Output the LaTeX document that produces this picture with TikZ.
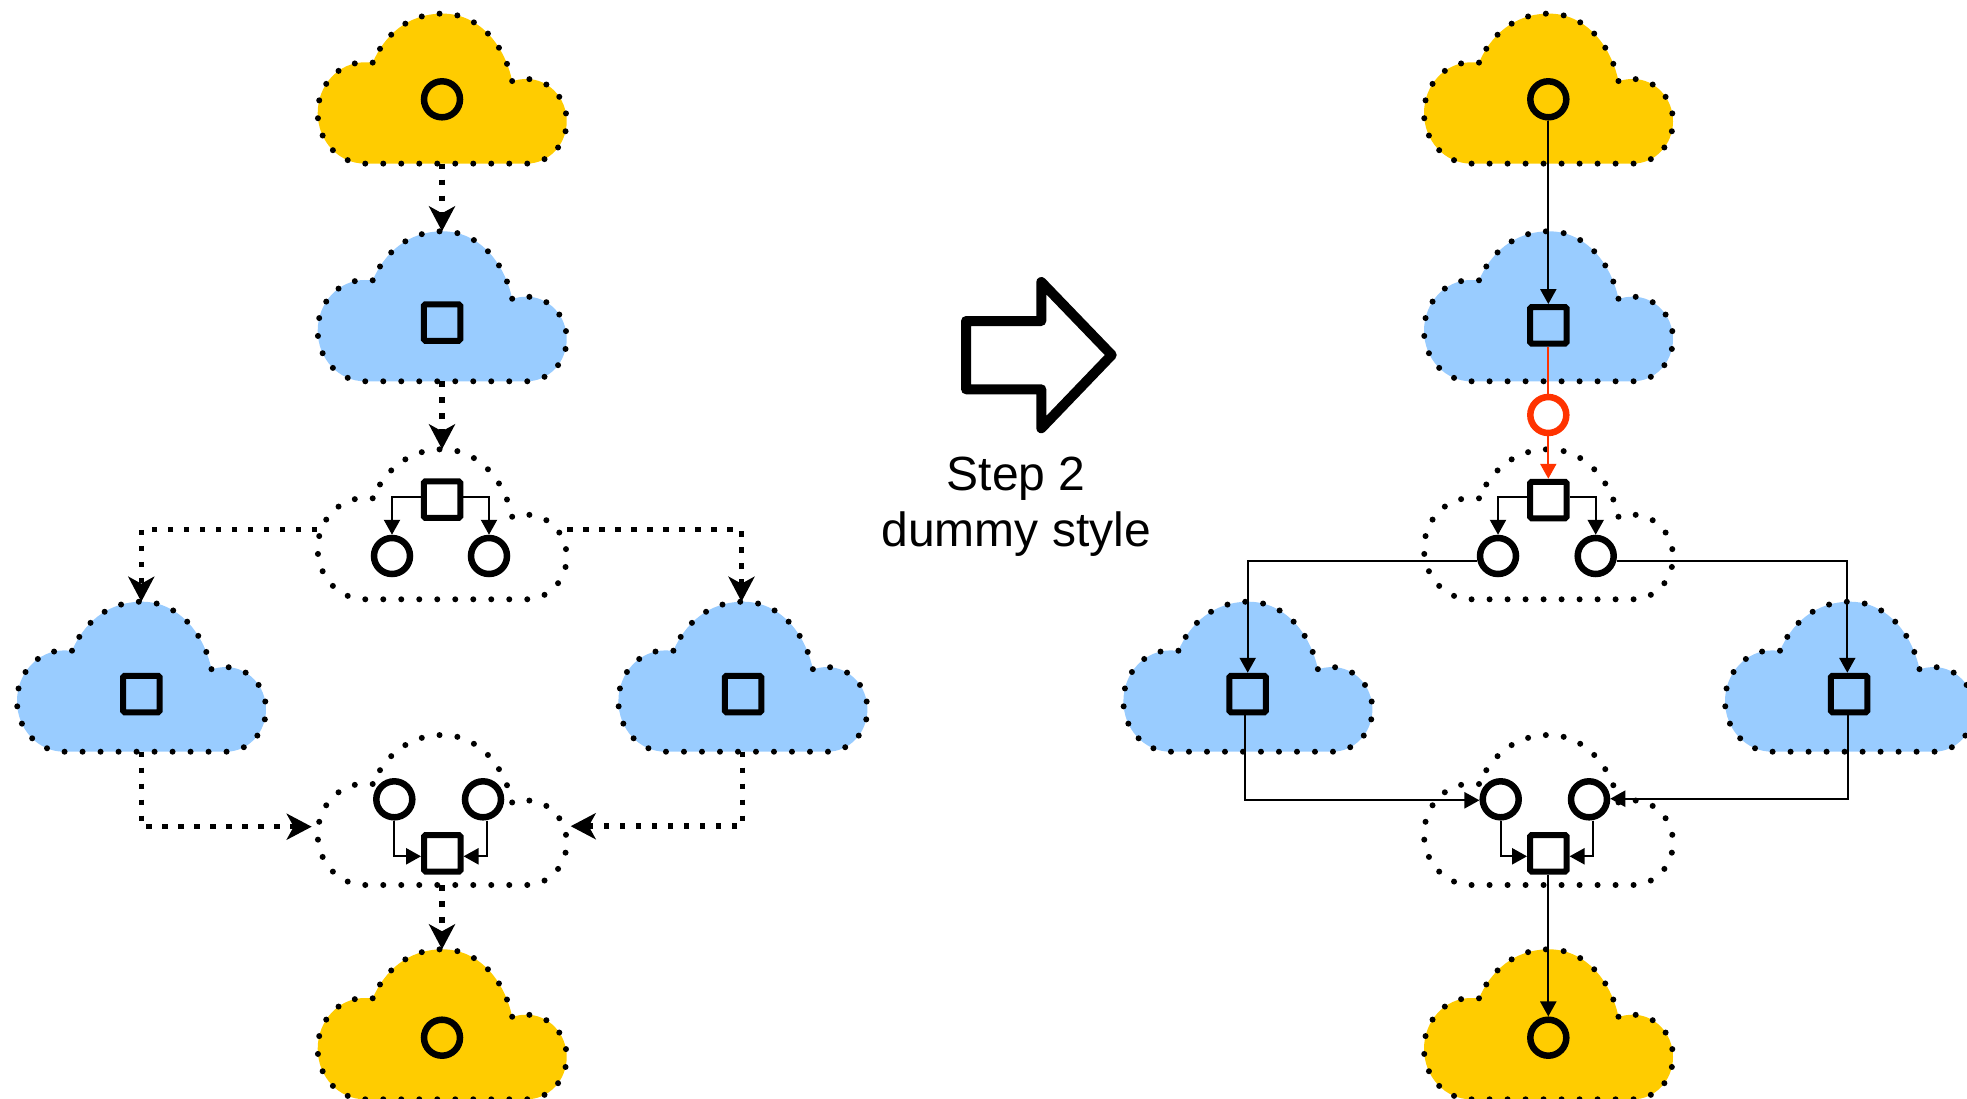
\documentclass[tikz,border=0pt]{standalone}
\usepackage{fontspec}
\setmainfont{Liberation Sans}
\usetikzlibrary{arrows.meta}
\definecolor{cloudgold}{HTML}{FFCC00}
\definecolor{cloudblue}{HTML}{99CCFF}
\definecolor{alertred}{HTML}{FF3300}
\tikzset{
  x=1pt,y=-1pt,
  cloudline/.style={line width=6pt,line cap=round,dash pattern=on 0pt off 18pt},
  cloudbox/.style={minimum width=250pt,minimum height=150pt,inner sep=0pt,outer sep=0pt},
  sqnode/.style={draw=black,line width=6pt,rounded corners=1.5pt,minimum size=36.5pt,inner sep=0pt},
  cinode/.style={circle,draw=black,line width=6.5pt,minimum size=36pt,inner sep=0pt},
  redci/.style={cinode,draw=alertred},
  dotconn/.style={line width=5.5pt,dash pattern=on 5.5pt off 10.5pt,-{Stealth[length=25pt,width=26pt,inset=7pt]}},
  conn/.style={line width=2.3pt,-{Triangle[width=16pt,length=15pt]}},
  plainconn/.style={line width=2.3pt},
  redconn/.style={conn,draw=alertred,-{Triangle[width=16pt,length=15pt,fill=alertred]}},
  bigarrow/.style={line width=10pt,line join=round},
  caption/.style={font=\fontsize{48}{56}\selectfont,align=center,inner sep=0pt,text=black}
}
\newcommand{\cloudat}[4]{%
  \begin{scope}[shift={(#2,#3)}]
    \path[fill=#4]
      (-69.3,-36.7) -- (-77.3,-37)
      .. controls (-103.3,-37) and (-124.3,-14.3) .. (-124.3,13.7)
      .. controls (-124.3,41.7) and (-103.3,64.3) .. (-77.3,64.3)
      -- (84.7,64.3)
      .. controls (106.7,64.3) and (124.7,45.4) .. (124.7,22)
      .. controls (124.7,-1.4) and (106.7,-20.3) .. (84.7,-20.3)
      .. controls (79,-20.3) and (74,-19.5) .. (70.3,-17.7)
      .. controls (62,-57) and (35,-85.7) .. (0.7,-85.7)
      .. controls (-35,-85.7) and (-58,-63) .. (-69.3,-36.7) -- cycle;
    \draw[cloudline,fill=none]
      (-69.3,-36.7) -- (-77.3,-37)
      .. controls (-103.3,-37) and (-124.3,-14.3) .. (-124.3,13.7)
      .. controls (-124.3,41.7) and (-103.3,64.3) .. (-77.3,64.3)
      -- (84.7,64.3)
      .. controls (106.7,64.3) and (124.7,45.4) .. (124.7,22)
      .. controls (124.7,-1.4) and (106.7,-20.3) .. (84.7,-20.3)
      .. controls (79,-20.3) and (74,-19.5) .. (70.3,-17.7)
      .. controls (62,-57) and (35,-85.7) .. (0.7,-85.7)
      .. controls (-35,-85.7) and (-58,-63) .. (-69.3,-36.7) -- cycle;
    \node[cloudbox] (#1) at (0,-10.7) {};
  \end{scope}}
\begin{document}
\begin{tikzpicture}
\useasboundingbox (0,0) rectangle (1967,1099);
% left column clouds
\cloudat{LA}{442}{99.3}{cloudgold}
\cloudat{LB}{442}{317}{cloudblue}
\cloudat{LC}{442}{535}{white}
\cloudat{LD}{141.3}{687.4}{cloudblue}
\cloudat{LE}{742.7}{687.4}{cloudblue}
\cloudat{LF}{442}{820.7}{white}
\cloudat{LG}{442}{1035}{cloudgold}
% right column clouds
\cloudat{RA}{1548.3}{99.3}{cloudgold}
\cloudat{RB}{1548.3}{317}{cloudblue}
\cloudat{RC}{1548.3}{535}{white}
\cloudat{RD}{1247.7}{687.4}{cloudblue}
\cloudat{RE}{1849.3}{687.4}{cloudblue}
\cloudat{RF}{1548.3}{820.7}{white}
\cloudat{RG}{1548.3}{1035}{cloudgold}
% left column inner nodes
\node[cinode] (la) at (442,99.3) {};
\node[sqnode] (lb) at (442,322.5) {};
\node[sqnode] (lc) at (442,499.7) {};
\node[cinode] (lc1) at (392,556) {};
\node[cinode] (lc2) at (489,556) {};
\node[sqnode] (ld) at (141.3,694) {};
\node[sqnode] (le) at (743,694) {};
\node[cinode] (lf1) at (394.3,799.3) {};
\node[cinode] (lf2) at (483,799.3) {};
\node[sqnode] (lf) at (442.3,853.3) {};
\node[cinode] (lg) at (442,1037.7) {};
% right column inner nodes
\node[cinode] (ra) at (1548.3,99.3) {};
\node[sqnode] (rb) at (1548.3,325.3) {};
\node[redci] (rr) at (1548.3,415) {};
\node[sqnode] (rc) at (1548.3,500) {};
\node[cinode] (rc1) at (1498,556) {};
\node[cinode] (rc2) at (1595.7,556) {};
\node[sqnode] (rd) at (1247.7,694) {};
\node[sqnode] (re) at (1849,694) {};
\node[cinode] (rf1) at (1500.7,799.3) {};
\node[cinode] (rf2) at (1589,799.3) {};
\node[sqnode] (rf) at (1548.3,853.3) {};
\node[cinode] (rg) at (1548.3,1037.7) {};
% free ends
\coordinate (lfL) at (311.7,826.7);
\coordinate (lfR) at (570.7,826.2);
% left column connectors
\draw[dotconn] (LA.south) -- (LB.north);
\draw[dotconn] (LB.south) -- (LC.north);
\draw[dotconn] ([yshift=-5.2pt]LC.west) -| (LD.north);
\draw[dotconn] ([yshift=-5.2pt]LC.east) -| ([xshift=-1.2pt]LE.north);
\draw[dotconn] (LD.south) |- (lfL);
\draw[dotconn] (LE.south) |- (lfR);
\draw[dotconn] (LF.south) -- (LG.north);
\draw[conn] ([yshift=3pt]lc.west) -| (lc1.north);
\draw[conn] ([yshift=3pt]lc.east) -| (lc2.north);
\draw[conn] (lf1.south) |- ([yshift=-3pt]lf.west);
\draw[conn] ([xshift=4pt]lf2.south) |- ([yshift=-3pt]lf.east);
% right column connectors
\draw[conn] (ra.south) -- (rb.north);
\draw[plainconn,draw=alertred] (rb.south) -- (rr.north);
\draw[redconn] (rr.south) -- (rc.north);
\draw[conn] ([yshift=3pt]rc.west) -| (rc1.north);
\draw[conn] ([yshift=3pt]rc.east) -| (rc2.north);
\draw[conn] ([yshift=-5pt]rc1.west) -| (rd.north);
\draw[conn] ([yshift=-5pt]rc2.east) -| ([xshift=-1.7pt]re.north);
\draw[conn] ([xshift=-2.7pt]rd.south) |- ([yshift=-1pt]rf1.west);
\draw[conn] ([xshift=-1pt]re.south) |- ([yshift=0.6pt]rf2.east);
\draw[conn] (rf1.south) |- ([yshift=-3pt]rf.west);
\draw[conn] ([xshift=4pt]rf2.south) |- ([yshift=-3pt]rf.east);
\draw[conn] (rf.south) -- (rg.north);
% transition arrow and label
\draw[bigarrow] (966,321) -- (1041.3,321) -- (1041.3,282) -- (1111.7,355) -- (1041.3,428.3) -- (1041.3,389.3) -- (966,389.3) -- cycle;
\node[caption] (steplabel) at (1016.3,506.5) {Step 2\\dummy style};
\end{tikzpicture}
\end{document}
